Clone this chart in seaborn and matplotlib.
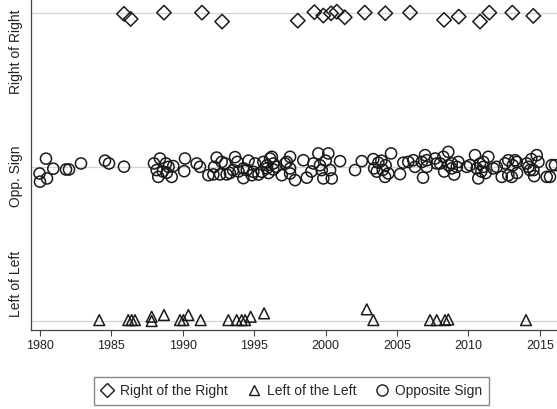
import pandas as pd
import matplotlib.pyplot as plt
import seaborn as sns
from matplotlib.lines import Line2D

# values: year and jittered band position
right_years = [1985.88, 1986.35, 1988.68, 1991.34, 1992.75, 1998.05, 1999.21, 1999.84,
               2000.38, 2000.78, 2001.34, 2002.74, 2004.18, 2005.91, 2008.29, 2009.32,
               2010.81, 2011.46, 2013.07, 2014.54]
right_pos = [0.992, 0.959, 1.0, 1.0, 0.942, 0.948, 1.003, 0.981,
             0.996, 1.006, 0.970, 1.0, 0.996, 1.0, 0.953, 0.974,
             0.942, 1.0, 1.0, 0.979]

left_years = [1984.15, 1986.18, 1986.42, 1986.65, 1987.82, 1987.82, 1988.68, 1989.80,
              1990.04, 1990.39, 1991.25, 1993.19, 1993.77, 1994.12, 1994.36, 1994.75,
              1995.69, 2002.88, 2003.34, 2007.31, 2007.78, 2008.36, 2008.59, 2014.03]
left_pos = [-0.994, -0.994, -0.994, -0.994, -0.972, -1.0, -0.961, -0.994,
            -0.994, -0.961, -0.994, -0.994, -0.994, -0.994, -0.994, -0.972,
            -0.950, -0.924, -0.994, -0.994, -0.994, -0.994, -0.990, -0.994]

opp_years = [1979.97, 1980.0, 1980.42, 1980.49, 1980.93, 1981.82, 1982.03, 1982.87,
             1984.55, 1984.83, 1985.88, 1987.98, 1988.17, 1988.28, 1988.40, 1988.82,
             1988.87, 1989.22, 1989.33, 1990.15, 1990.10, 1990.97, 1991.79, 1992.14,
             1992.61, 1993.07, 1992.37, 1992.72, 1992.96, 1993.52, 1993.66, 1993.82,
             1994.24, 1994.24, 1994.48, 1994.83, 1994.94, 1995.06, 1995.53, 1995.64,
             1995.88, 1996.11, 1996.23, 1996.34, 1996.34, 1996.53, 1996.93, 1997.16,
             1997.28, 1997.51, 1997.51, 1997.51, 1997.86, 1998.44, 1998.68, 1999.14,
             1999.49, 2000.19, 1999.73, 2000.31, 1999.84, 2000.43, 2001.01, 2002.06,
             2002.53, 2003.34, 2003.69, 2003.58, 2004.16, 2004.39, 2004.58, 2005.21,
             2005.44, 2005.79, 2006.14, 2006.26, 2006.73, 2006.96, 2007.08, 2007.08,
             2006.82, 2007.66, 2007.78, 2008.01, 2008.24, 2008.59, 2008.83, 2008.83,
             2009.18, 2009.29, 2009.88, 2010.11, 2010.46, 2010.58, 2010.69, 2011.04,
             2011.04, 2011.39, 2011.74, 2011.98, 2012.33, 2012.56, 2012.79, 2012.79,
             2013.03, 2013.26, 2013.38, 2014.08, 2014.20, 2014.31, 2014.55, 2014.78,
             2014.90, 2015.48, 2015.71, 2015.83, 2016.06,
             1993.3, 1993.9, 1994.6, 1995.3, 1995.9, 1996.0, 1999.0, 1999.6,
             2000.0, 2003.4, 2003.9, 2004.0, 2004.2, 2008.3, 2008.6, 2009.0,
             2010.8, 2011.2, 2010.9, 2013.1, 2013.4, 2014.4, 2014.6, 1989.0,
             1988.6, 1991.2, 1992.2]
opp_pos = [-0.043, -0.096, 0.053, -0.075, -0.012, -0.017, -0.017, 0.022,
           0.040, 0.022, 0.001, 0.022, -0.021, -0.065, 0.054, 0.022,
           -0.039, -0.065, 0.005, 0.054, -0.028, 0.022, -0.054, -0.049,
           -0.049, -0.049, 0.060, 0.032, 0.022, -0.021, 0.063, 0.032,
           -0.010, -0.073, -0.021, -0.054, -0.032, 0.022, -0.032, 0.032,
           -0.010, 0.054, 0.065, 0.022, -0.017, 0.0, -0.054, 0.022,
           0.032, 0.065, -0.010, -0.043, -0.086, 0.043, -0.070, 0.022,
           0.087, 0.087, -0.021, -0.021, -0.075, -0.075, 0.037, -0.021,
           0.037, 0.050, 0.027, -0.031, -0.065, -0.043, 0.087, -0.047,
           0.027, 0.032, 0.043, 0.0, 0.032, 0.076, 0.043, 0.0,
           -0.070, 0.054, 0.022, 0.022, 0.065, 0.097, -0.010, 0.022,
           0.0, 0.032, 0.0, 0.011, 0.076, -0.010, -0.075, 0.032,
           0.0, 0.065, -0.010, 0.0, -0.065, 0.022, 0.043, -0.054,
           -0.065, 0.043, 0.032, 0.022, 0.0, -0.021, -0.021, 0.076,
           0.032, -0.065, -0.065, 0.011, 0.011,
           -0.040, -0.030, 0.040, -0.050, 0.010, -0.040, -0.030, 0.010,
           0.040, -0.010, 0.040, -0.020, 0.010, -0.030, 0.010, -0.050,
           0.020, -0.040, -0.030, 0.010, -0.040, 0.050, -0.060, 0.000,
           -0.030, 0.000, 0.000]

groups = ["Right of the Right", "Left of the Left", "Opposite Sign"]
band_labels = ["Left of Left", "Opp. Sign", "Right of Right"]
year_ticks = [1980, 1985, 1990, 1995, 2000, 2005, 2010, 2015]

df = pd.concat([
    pd.DataFrame({"year": right_years, "pos": right_pos, "group": groups[0]}),
    pd.DataFrame({"year": left_years, "pos": left_pos, "group": groups[1]}),
    pd.DataFrame({"year": opp_years, "pos": opp_pos, "group": groups[2]}),
])

sns.set_style("white")
plt.rcParams['font.family'] = ['Liberation Sans', 'DejaVu Sans']

marker_map = {groups[0]: ("D", 54, 7.3), groups[1]: ("^", 60, 7.7), groups[2]: ("o", 64, 8.0)}
ink = "#1a1a1a"

fig = plt.figure(figsize=(5.57, 4.09), dpi=100)
ax = fig.add_axes([31 / 557, 1 - 330 / 409, 1 - 31 / 557, 330 / 409])

for g in groups:
    m, s, _ = marker_map[g]
    sns.scatterplot(data=df[df["group"] == g], x="year", y="pos", marker=m, s=s,
                    facecolors="none", edgecolor=ink, linewidth=1.1, legend=False,
                    ax=ax, zorder=3)

ax.set_xlim(1979.37, 2016.2)
ax.set_ylim(-1.058, 1.082)

# grid lines at the three bands, labels placed like the original
ax.set_yticks([-1, 0, 1])
ax.set_yticklabels([])
ax.set_yticks([-0.76, -0.06, 0.745], minor=True)
ax.set_yticklabels(band_labels, minor=True, rotation=90, va="center", fontsize=10,
                   color="#222222")
ax.tick_params(axis="y", which="both", length=0, pad=6)
ax.grid(axis="y", which="major", color="#d4d4d4", linewidth=0.9)
ax.grid(axis="x", visible=False)

ax.set_xticks(year_ticks)
ax.set_xticklabels([str(y) for y in year_ticks], fontsize=9, color="#222222")
ax.tick_params(axis="x", length=4, width=0.8, color="#444444", direction="out", pad=3,
               bottom=True)

ax.set_xlabel("")
ax.set_ylabel("")
for side in ["top", "right"]:
    ax.spines[side].set_visible(False)
for side in ["left", "bottom"]:
    ax.spines[side].set_color("#444444")
    ax.spines[side].set_linewidth(0.9)

handles = [Line2D([], [], linestyle="none", marker=marker_map[g][0],
                  markersize=marker_map[g][2], markerfacecolor="none",
                  markeredgecolor=ink, markeredgewidth=1.0) for g in groups]
fig.legend(handles, groups, loc="center", bbox_to_anchor=(0.523, 0.044), ncol=3,
           fontsize=10, frameon=True, fancybox=False, edgecolor="#888888",
           framealpha=1, handlelength=1.0, handletextpad=0.4, columnspacing=1.4,
           borderpad=0.5)

fig.savefig("out.png", dpi=100)
